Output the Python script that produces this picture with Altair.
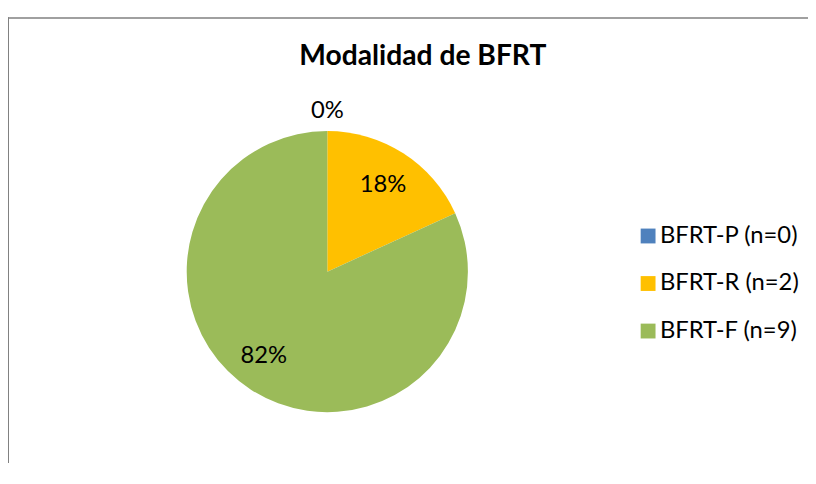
import altair as alt
import pandas as pd

categories = ["BFRT-P (n=0)", "BFRT-R (n=2)", "BFRT-F (n=9)"]
counts = [0, 2, 9]
colors = ["#4F81BD", "#FFC000", "#9BBB59"]
title_text = "Modalidad de BFRT"

total = sum(counts)
df = pd.DataFrame({
    "cat": categories,
    "n": counts,
    "idx": list(range(len(categories))),
    "pct": [f"{round(100 * c / total)}%" for c in counts],
    "share": [c / total for c in counts],
})

FONT = "Lato"
SHIFT = 2.5
CX, CY, R = 315 + SHIFT, 259, 142

base = alt.Chart(df).encode(
    theta=alt.Theta("n:Q", stack=True),
    order=alt.Order("idx:Q"),
    x=alt.value(CX),
    y=alt.value(CY),
)

pie = base.mark_arc(outerRadius=R, strokeWidth=0).encode(
    color=alt.Color(
        "cat:N",
        scale=alt.Scale(domain=categories, range=colors),
        sort=categories,
        legend=alt.Legend(
            title=None,
            orient="none",
            legendX=627 + SHIFT,
            legendY=211,
            symbolType="square",
            symbolSize=225,
            symbolStrokeWidth=0,
            labelFont=FONT,
            labelFontSize=24,
            labelColor="#000000",
            labelOffset=0,
            rowPadding=24,
            padding=0,
            labelLimit=300,
        ),
    ),
)

small_labels = base.mark_text(font=FONT, fontSize=24, color="#000000", radius=104).encode(
    text="pct:N",
    opacity=alt.condition("datum.share > 0 && datum.share <= 0.5", alt.value(1), alt.value(0)),
)

big_labels = base.mark_text(font=FONT, fontSize=24, color="#000000", radius=104, dx=-8, dy=-2).encode(
    text="pct:N",
    opacity=alt.condition("datum.share > 0.5", alt.value(1), alt.value(0)),
)

# zero-share slice label sits outside the pie
outer_labels = base.mark_text(font=FONT, fontSize=24, color="#000000", radius=162).encode(
    text="pct:N",
    opacity=alt.condition("datum.n == 0", alt.value(1), alt.value(0)),
)

title = alt.Chart(pd.DataFrame({"t": [title_text]})).mark_text(
    font=FONT, fontSize=28.5, fontWeight="bold", color="#000000", baseline="alphabetic", align="center"
).encode(x=alt.value(411.5 + SHIFT), y=alt.value(50), text="t:N")

border_top = alt.Chart(pd.DataFrame({"a": [0]})).mark_rule(color="#808080", strokeWidth=1.5).encode(
    x=alt.value(-5), x2=alt.value(803), y=alt.value(2.75)
)
border_left = alt.Chart(pd.DataFrame({"a": [0]})).mark_rule(color="#808080", strokeWidth=2).encode(
    x=alt.value(-5), y=alt.value(2), y2=alt.value(460)
)

chart = alt.layer(border_top, border_left, pie, small_labels, big_labels, outer_labels, title).properties(
    width=803,
    height=450,
    autosize=alt.AutoSizeParams(type="none"),
    padding={"left": 5, "top": 5, "right": 0, "bottom": 0},
    background="#ffffff",
).configure_view(strokeWidth=0, stroke="transparent")

chart.save("out.html", embed_options={"renderer": "svg", "actions": False})
